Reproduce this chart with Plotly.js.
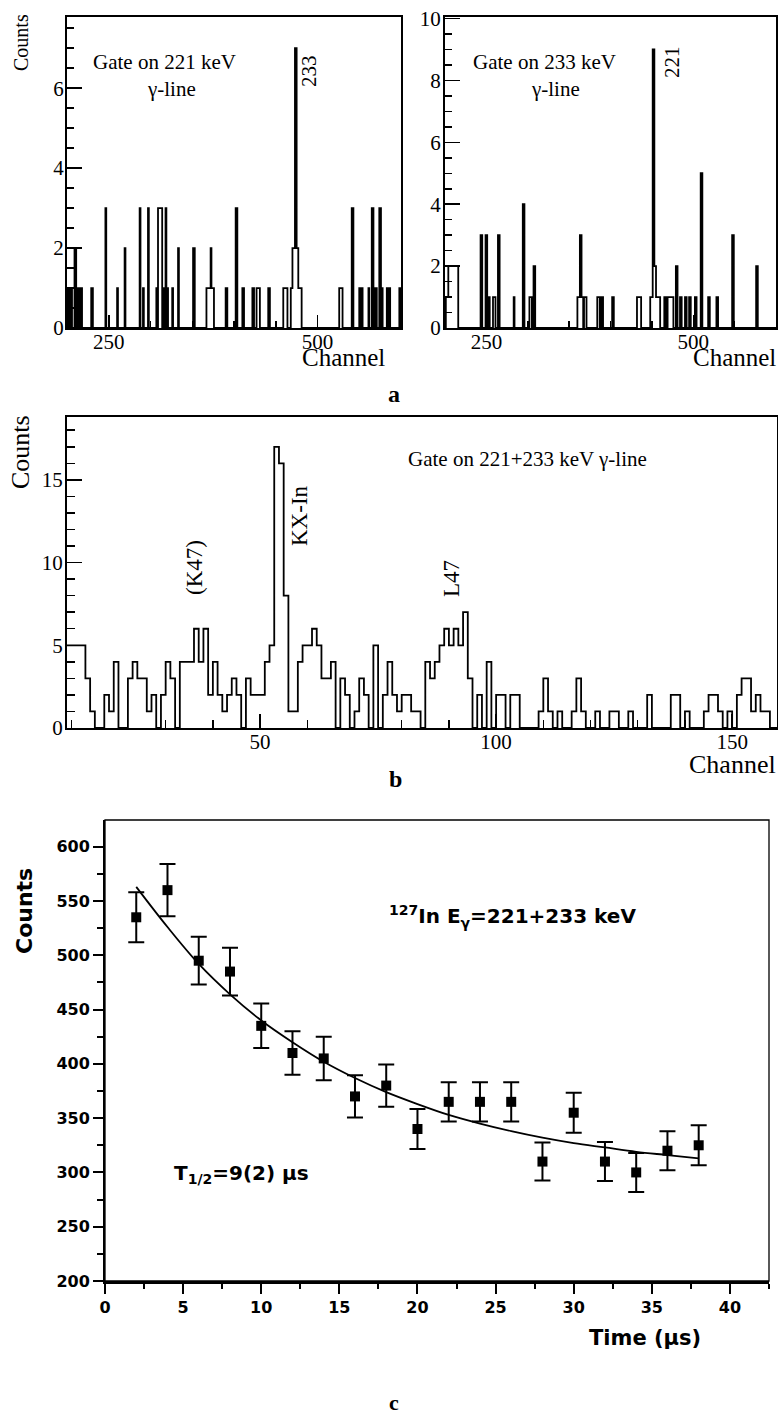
<!DOCTYPE html>
<html>
<head>
<meta charset="utf-8">
<script src="https://cdn.plot.ly/plotly-3.0.1.min.js"></script>
<style>html,body{margin:0;padding:0;background:#fff;}#chart{width:778px;height:1416px;}</style>
</head>
<body>
<div id="chart"></div>
<script>
// ---------- Panel a (left): gate on 221 keV, sparse nonzero channels ----------
const aLeftChannels = [201,202,205,209,210,213,216,217,229,230,246,260,269,287,291,297,307,309,310,311,312,313,315,316,318,320,326,333,351,352,367,368,369,370,371,372,373,374,375,390,391,402,403,410,411,422,423,427,428,429,430,441,442,459,460,461,462,463,468,469,470,471,472,473,474,475,476,477,478,479,480,526,527,528,529,541,542,550,553,561,565,566,568,570,574,575,577,583,586,598];
const aLeftCounts   = [1,1,1,2,2,1,1,1,1,1,3,1,2,3,1,3,1,3,3,3,3,3,1,1,3,1,1,2,2,2,1,1,1,1,1,2,1,1,1,1,1,3,3,1,1,1,1,1,1,1,1,1,1,1,1,1,1,1,1,1,2,2,2,7,7,2,2,1,1,1,1,1,1,1,1,3,3,1,1,1,3,3,1,1,3,3,1,1,1,1];

// ---------- Panel a (right): gate on 233 keV ----------
const aRightChannels = [201,202,203,204,205,206,207,208,209,210,211,212,213,214,215,243,244,249,250,253,258,259,260,264,265,283,294,295,302,303,304,307,308,360,361,362,363,364,365,366,368,369,370,384,385,386,389,390,402,403,432,433,434,435,436,448,449,450,451,452,453,454,455,456,457,458,459,465,466,469,470,471,472,473,474,475,479,480,484,485,490,491,495,496,502,503,509,510,518,519,528,529,547,548,576,577];
const aRightCounts   = [1,1,1,2,2,2,2,2,2,2,2,2,2,2,2,3,3,3,3,1,1,1,1,3,3,1,4,4,1,1,1,2,2,1,1,1,3,3,1,1,1,1,1,1,1,1,1,1,1,1,1,1,1,1,1,1,1,1,9,9,2,2,1,1,1,1,1,1,1,1,1,1,1,1,1,1,2,2,1,1,1,1,1,1,1,1,5,5,1,1,1,1,3,3,2,2];

// ---------- Panel b: gate on 221+233 keV, channels 9..159 ----------
const bFirstChannel = 9;
const bCounts = [
 5,5,5,5,3,1,0,0,2,1,        // 9-18
 4,0,0,3,4,3,3,1,2,0,        // 19-28
 2,4,3,0,4,4,4,6,4,6,        // 29-38
 2,4,2,1,2,3,2,0,3,2,        // 39-48
 2,2,4,5,17,16,8,1,1,4,      // 49-58
 5,5,6,5,3,3,4,0,3,2,        // 59-68
 0,1,3,2,0,5,0,2,4,2,        // 69-78
 1,2,2,1,1,0,4,3,4,5,        // 79-88
 6,5,6,5,7,3,0,2,0,4,        // 89-98
 0,2,2,0,2,2,0,0,0,0,        // 99-108
 1,3,1,0,1,0,0,1,3,1,        // 109-118
 0,0,1,0,0,1,1,0,0,1,        // 119-128
 0,0,0,2,0,0,0,0,2,2,        // 129-138
 0,1,0,0,0,1,2,2,1,0,        // 139-148
 1,0,2,3,3,1,2,1,1,0,0       // 149-159
];

// ---------- Panel c: decay curve ----------
const cTime   = [2,4,6,8,10,12,14,16,18,20,22,24,26,28,30,32,34,36,38];
const cCounts = [535,560,495,485,435,410,405,370,380,340,365,365,365,310,355,310,300,320,325];
const cErrors = [23,24,22,22,20.5,20,20,19.5,19.5,18.5,18,18,18,17.5,18.5,18,18,18,18.5];
const fitTime   = [2,4,6,8,10,12,14,16,18,20,22,24,26,28,30,32,34,36,38];
const fitCounts = [563,526,492,464,440,420,402,387,374,363,353,345,338,332,327,323,319,316,313];

// ---------- helpers ----------
const W = 778, H = 1416;
const px = x => x / W;
const py = y => 1 - y / H;
const SERIF = 'Liberation Serif, Times New Roman, serif';
const SANS = 'DejaVu Sans, Arial, sans-serif';

function denseSteps(chs, cnts, lo, hi) {
  const m = {};
  chs.forEach((c, i) => { m[c] = cnts[i]; });
  const xs = [], ys = [];
  for (let c = lo; c <= hi; c++) { xs.push(c); ys.push(m[c] || 0); }
  xs.push(hi + 1); ys.push(0);
  return {xs, ys};
}
const aL = denseSteps(aLeftChannels, aLeftCounts, 200, 600);
const aR = denseSteps(aRightChannels, aRightCounts, 200, 600);
const bX = bCounts.map((v, i) => bFirstChannel + i);
bX.push(bFirstChannel + bCounts.length);
const bY = bCounts.slice(); bY.push(0);

const traces = [
  {x: aL.xs, y: aL.ys, xaxis: 'x', yaxis: 'y', mode: 'lines', line: {shape: 'hv', color: '#000', width: 1.8}, hoverinfo: 'skip'},
  {x: aR.xs, y: aR.ys, xaxis: 'x2', yaxis: 'y2', mode: 'lines', line: {shape: 'hv', color: '#000', width: 1.8}, hoverinfo: 'skip'},
  {x: bX, y: bY, xaxis: 'x3', yaxis: 'y3', mode: 'lines', line: {shape: 'hv', color: '#000', width: 1.8}, hoverinfo: 'skip'},
  {x: fitTime, y: fitCounts, xaxis: 'x4', yaxis: 'y4', mode: 'lines', line: {shape: 'spline', color: '#000', width: 1.8}, hoverinfo: 'skip'},
  {x: cTime, y: cCounts, xaxis: 'x4', yaxis: 'y4', mode: 'markers',
   marker: {symbol: 'square', size: 10, color: '#000'},
   error_y: {type: 'data', array: cErrors, visible: true, width: 8, thickness: 2, color: '#000'}, hoverinfo: 'skip'}
];

function histAxis(extra) {
  return Object.assign({
    showline: true, mirror: true, linewidth: 2, linecolor: '#000',
    showgrid: false, zeroline: false, ticks: 'inside', tickwidth: 1.5, tickcolor: '#000',
    tickfont: {family: SERIF, size: 21, color: '#000'}
  }, extra);
}

const layout = {
  width: W, height: H, margin: {l: 0, r: 0, t: 0, b: 0},
  paper_bgcolor: '#fff', plot_bgcolor: '#fff', showlegend: false,
  xaxis: histAxis({domain: [px(67), px(401)], range: [200, 600], anchor: 'y', tick0: 0, dtick: 250, ticklen: 13,
    minor: {tick0: 0, dtick: 50, ticks: 'inside', ticklen: 7, tickwidth: 1.5, tickcolor: '#000'}, ticklabelstandoff: -6}),
  yaxis: histAxis({domain: [py(328), py(17)], range: [0, 7.78], anchor: 'x', tick0: 0, dtick: 2, ticklen: 15,
    minor: {dtick: 0.5, ticks: 'inside', ticklen: 7, tickwidth: 1.5, tickcolor: '#000'}, ticklabelstandoff: -3}),
  xaxis2: histAxis({domain: [px(445), px(776)], range: [200, 600], anchor: 'y2', tick0: 0, dtick: 250, ticklen: 13,
    minor: {tick0: 0, dtick: 50, ticks: 'inside', ticklen: 7, tickwidth: 1.5, tickcolor: '#000'}, ticklabelstandoff: -6}),
  yaxis2: histAxis({domain: [py(328), py(17)], range: [0, 10.05], anchor: 'x2', tick0: 0, dtick: 2, ticklen: 15,
    minor: {dtick: 0.5, ticks: 'inside', ticklen: 7, tickwidth: 1.5, tickcolor: '#000'}, ticklabelstandoff: -2}),
  xaxis3: histAxis({domain: [px(67), px(777)], range: [9.1, 159.5], anchor: 'y3', tick0: 0, dtick: 50, ticklen: 14,
    minor: {tick0: 0, dtick: 10, ticks: 'inside', ticklen: 8, tickwidth: 1.5, tickcolor: '#000'}, ticklabelstandoff: -6}),
  yaxis3: histAxis({domain: [py(728), py(417)], range: [0, 18.8], anchor: 'x3', tick0: 0, dtick: 5, ticklen: 15,
    minor: {dtick: 1, ticks: 'inside', ticklen: 8, tickwidth: 1.5, tickcolor: '#000'}, ticklabelstandoff: -2}),
  xaxis4: {domain: [px(105), px(769)], range: [0, 42.5], anchor: 'y4', tick0: 0, dtick: 5,
    showline: true, linewidth: 2.5, linecolor: '#000', showgrid: false, zeroline: false,
    ticks: 'outside', ticklen: 10, tickwidth: 2, tickcolor: '#000',
    minor: {dtick: 2.5, ticks: 'outside', ticklen: 5, tickwidth: 2, tickcolor: '#000'},
    tickfont: {family: SANS, size: 16, color: '#000', weight: 'bold'}},
  yaxis4: {domain: [py(1281), py(820)], range: [200, 624.6], anchor: 'x4', tick0: 0, dtick: 50,
    showline: true, linewidth: 2, linecolor: '#000', showgrid: false, zeroline: false,
    ticks: 'outside', ticklen: 10, tickwidth: 2, tickcolor: '#000',
    minor: {dtick: 25, ticks: 'outside', ticklen: 6, tickwidth: 2, tickcolor: '#000'},
    tickfont: {family: SANS, size: 16, color: '#000', weight: 'bold'}},
  shapes: [
    {type: 'rect', xref: 'x4 domain', yref: 'y4 domain', x0: 0, x1: 1, y0: 0, y1: 1, line: {color: '#000', width: 1.3}}
  ],
  annotations: []
};

function note(text, x, y, size, opts) {
  layout.annotations.push(Object.assign({
    text: text, xref: 'paper', yref: 'paper', x: px(x), y: py(y), xanchor: 'center', yanchor: 'middle',
    showarrow: false, font: {family: SERIF, size: size, color: '#000'}
  }, opts || {}));
}
// panel a
note('Counts', 21, 43, 20, {textangle: -90});
note('Gate on 221 keV', 164, 62, 21);
note('γ-line', 171, 89, 21);
note('233', 309, 71, 21, {textangle: -90});
note('Channel', 343, 357, 25);
note('Gate on 233 keV', 544, 62, 21);
note('γ-line', 555, 89, 21);
note('221', 672, 62, 21, {textangle: -90});
note('Channel', 734, 358, 25);
note('<b>a</b>', 394, 394, 24);
// panel b
note('Counts', 20, 452, 26, {textangle: -90});
note('Gate on 221+233 keV γ-line', 527, 459, 21);
note('(K47)', 194, 568, 23, {textangle: -90});
note('KX-In', 300, 516, 23, {textangle: -90});
note('L47', 451, 579, 23, {textangle: -90});
note('Channel', 732, 764, 26);
note('<b>b</b>', 395, 779, 24);
// panel c
note('Counts', 24, 911, 22, {textangle: -90, font: {family: SANS, size: 22, color: '#000', weight: 'bold'}});
note('<sup>127</sup>In E<sub>γ</sub>=221+233 keV', 387, 916, 20, {xanchor: 'left', font: {family: SANS, size: 20, color: '#000', weight: 'bold'}});
note('T<sub>1/2</sub>=9(2) µs', 172, 1174, 20, {xanchor: 'left', font: {family: SANS, size: 20, color: '#000', weight: 'bold'}});
note('Time (µs)', 645, 1338, 21, {font: {family: SANS, size: 21, color: '#000', weight: 'bold'}});
note('<b>c</b>', 394, 1402, 22);

Plotly.newPlot('chart', traces, layout, {staticPlot: true, displayModeBar: false});
</script>
</body>
</html>
